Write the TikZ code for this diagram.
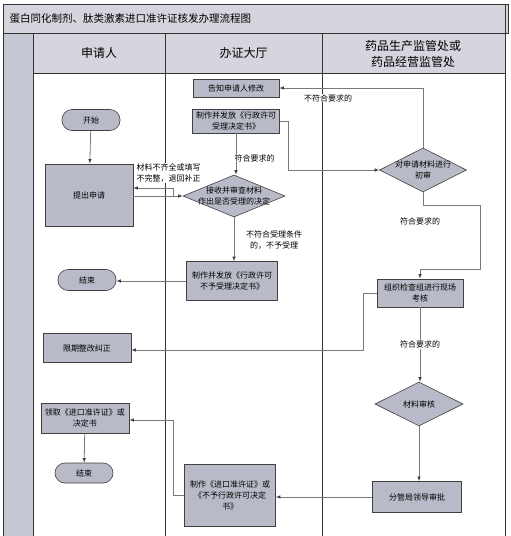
\documentclass[tikz,border=0pt]{standalone}
\usepackage{fontspec}
\setmainfont{Noto Sans CJK SC}
\usetikzlibrary{shapes.geometric,arrows.meta}
\definecolor{boxgray}{RGB}{184,187,199}
\definecolor{headgray}{RGB}{212,213,221}
\definecolor{stripgray}{RGB}{198,200,211}
\definecolor{conngray}{RGB}{120,120,126}
\tikzset{
  procbox/.style={draw=black!75, fill=boxgray, line width=0.6pt, align=center, inner sep=1pt, font=\fontsize{8}{11}\selectfont},
  termbox/.style={procbox, rounded corners=10pt},
  decbox/.style={draw=black!75, fill=boxgray, line width=0.6pt, diamond, inner sep=0pt},
  conn/.style={draw=conngray, line width=0.8pt, -{Latex[length=4.5pt,width=3.5pt,color=black!75]}},
  note/.style={fill=white, inner sep=0.5pt, align=center, font=\fontsize{8}{11}\selectfont},
  lane/.style={draw=black!80, line width=0.8pt}
}
\begin{document}
\begin{tikzpicture}[x=1pt, y=-1pt]
  \useasboundingbox (0,0) rectangle (511,536);
  \fill[white] (0,0) rectangle (511,536);
  \draw[lane, fill=headgray] (3,4) rectangle (508,33);
  \draw[lane, fill=stripgray] (3,33) rectangle (33,540);
  \draw[lane, fill=headgray] (33,33) rectangle (505,73);
  \draw[lane] (33,33) rectangle (165,540);
  \draw[lane] (165,33) rectangle (322,540);
  \draw[lane] (322,33) rectangle (505,540);
  \draw[lane] (505,4) -- (505,540);
  \node[anchor=west, font=\fontsize{10.5}{12}\selectfont] (title) at (6,19) {蛋白同化制剂、肽类激素进口准许证核发办理流程图};
  \node[font=\fontsize{12}{14}\selectfont] (lanea) at (99,53) {申请人};
  \node[font=\fontsize{12}{14}\selectfont] (laneb) at (243.5,53) {办证大厅};
  \node[font=\fontsize{12}{15.5}\selectfont, align=center] (lanec) at (413,54) {药品生产监管处或\\药品经营监管处};

  \node[termbox, minimum width=58pt, minimum height=21pt] (start) at (91,120) {开始};
  \node[procbox, minimum width=88pt, minimum height=62pt] (apply) at (89,195) {提出申请};
  \node[procbox, minimum width=86pt, minimum height=18pt] (notify) at (236,88) {告知申请人修改};
  \node[procbox, minimum width=87pt, minimum height=24pt] (accept) at (236,121) {制作并发放《行政许可\\受理决定书》};
  \node[decbox, minimum width=102pt, minimum height=42pt, label={[note, fill=none]center:接收并审查材料\\作出是否受理的决定}] (check) at (234,196) {};
  \node[decbox, minimum width=87pt, minimum height=44pt, label={[note, fill=none]center:对申请材料进行\\初审}] (review) at (423,170) {};
  \node[procbox, minimum width=91pt, minimum height=39pt] (reject) at (232,281) {制作并发放《行政许可\\不予受理决定书》};
  \node[termbox, minimum width=58pt, minimum height=21pt] (endA) at (87,280) {结束};
  \node[procbox, minimum width=88pt, minimum height=29pt] (rectify) at (87,348) {限期整改纠正};
  \node[procbox, minimum width=86pt, minimum height=28pt] (inspect) at (420,293) {组织检查组进行现场\\考核};
  \node[decbox, minimum width=88pt, minimum height=44pt, label={[note, fill=none]center:材料审核}] (audit) at (419,404) {};
  \node[procbox, minimum width=89pt, minimum height=31pt] (approve) at (417,497) {分管局领导审批};
  \node[procbox, minimum width=91pt, minimum height=62pt] (issue) at (230,495) {制作《进口准许证》或\\《不予行政许可决定\\书》};
  \node[procbox, minimum width=88pt, minimum height=30pt] (collect) at (85,418) {领取《进口准许证》或\\决定书};
  \node[termbox, minimum width=58pt, minimum height=20pt] (endB) at (84,473) {结束};

  \coordinate (backlow) at (173,196);
  \coordinate (backhigh) at (173,188);
  \coordinate (rturn) at (480,205);
  \coordinate (rdown) at (480,269);
  \coordinate (kturn) at (363,350);
  \coordinate (cturn) at (173,420);

  \draw[conn] (start) -- (apply);
  \draw[conn] (apply.east |- check.west) -- (check.west);
  \draw[conn] (backlow) -- (backhigh) -- (apply.east |- backhigh);
  \node[note, anchor=west, align=left] (backnote) at (136,173) {材料不齐全或填写\\不完整，退回补正};
  \draw[conn] (review.north) |- (notify.east);
  \node[note] (failnote) at (328,98) {不符合要求的};
  \draw[conn] (accept.east) -- ++(9,0) |- (review.west);
  \draw[conn] (accept) -- (accept |- check.north);
  \node[note, anchor=west] (oknote) at (234,158) {符合要求的};
  \draw[conn] (check.south) -- (check.south |- reject.north);
  \node[note] (rejnote) at (274,240) {不符合受理条件\\的，不予受理};
  \draw[conn] (reject.west) -- (reject.west -| endA.east);
  \draw[conn] (review.south) |- (rturn) -- (rdown) -| (inspect.north);
  \node[note] (oknoteb) at (420,221) {符合要求的};
  \draw[conn] (inspect.west) -| (kturn) -- (kturn -| rectify.east);
  \draw[conn] (inspect.south) -- node[note] (oknotec) {符合要求的} (inspect.south |- audit.north);
  \draw[conn] (audit.south) -- (audit.south |- approve.north);
  \draw[conn] (approve.west) -- (approve.west -| issue.east);
  \draw[conn] (issue.west) -| (cturn) -- (cturn -| collect.east);
  \draw[conn] (collect) -- (endB);
\end{tikzpicture}
\end{document}
